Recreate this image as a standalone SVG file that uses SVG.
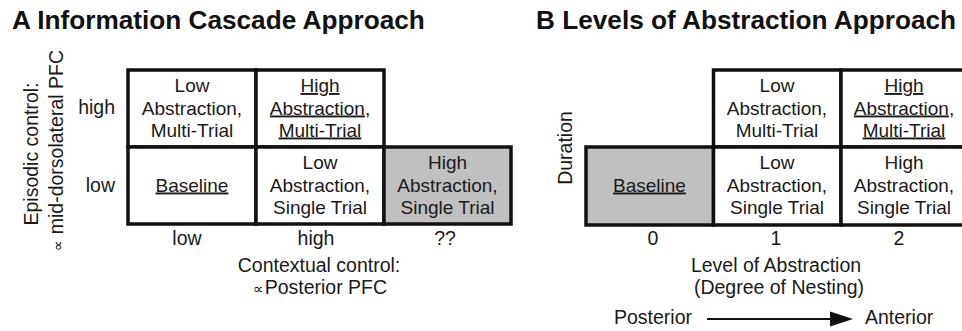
<svg xmlns="http://www.w3.org/2000/svg" width="962" height="331" viewBox="0 0 962 331">
<style>
  text { font-family: "Liberation Sans", Arial, sans-serif; fill: #1a1a1a; }
  .title { font-size: 26.2px; font-weight: bold; fill: #111; }
  .cell { fill: #ffffff; stroke: #111; stroke-width: 3.5; }
  .gray { fill: #c0c0c0; }
  .ct { font-size: 19px; text-anchor: middle; }
  .ax { font-size: 19.5px; }
  .mid { text-anchor: middle; }
  .end { text-anchor: end; }
  .u { text-decoration: underline; }
  .prop { font-family: "DejaVu Sans", sans-serif; font-size: 15px; }
</style>
<rect width="962" height="331" fill="#ffffff"/>

<text class="title" x="12" y="29">A Information Cascade Approach</text>
<text class="title" x="536" y="29">B Levels of Abstraction Approach</text>

<!-- Panel A -->
<g id="A-axis">
  <text class="ax" transform="translate(38,154) rotate(-90)" text-anchor="middle">Episodic control:</text>
  <text class="ax" transform="translate(63,150.5) rotate(-90)" text-anchor="middle"><tspan class="prop">∝</tspan><tspan dx="6">mid-dorsolateral PFC</tspan></text>
  <text class="ax end" x="115" y="114">high</text>
  <text class="ax end" x="115" y="191.5">low</text>
  <text class="ax mid" x="187" y="245">low</text>
  <text class="ax mid" x="316" y="245">high</text>
  <text class="ax mid" x="445" y="245">??</text>
  <text class="ax mid" x="319" y="272">Contextual control:</text>
  <text class="ax mid" x="320" y="294"><tspan class="prop">∝</tspan><tspan dx="1">Posterior PFC</tspan></text>
</g>

<g id="A-low-multi">
  <rect class="cell" x="128" y="70" width="128" height="77"/>
  <text class="ct" x="192" y="92">Low</text>
  <text class="ct" x="192" y="114.5">Abstraction,</text>
  <text class="ct" x="192" y="136.5">Multi-Trial</text>
</g>
<g id="A-high-multi">
  <rect class="cell" x="256" y="70" width="128" height="77"/>
  <text class="ct" x="320" y="92"><tspan class="u">High</tspan></text>
  <text class="ct" x="320" y="114.5"><tspan class="u">Abstraction</tspan>,</text>
  <text class="ct" x="320" y="136.5"><tspan class="u">Multi-Trial</tspan></text>
</g>
<g id="A-baseline">
  <rect class="cell" x="128" y="147" width="128" height="77"/>
  <text class="ct" x="192" y="191.5"><tspan class="u">Baseline</tspan></text>
</g>
<g id="A-low-single">
  <rect class="cell" x="256" y="147" width="128" height="77"/>
  <text class="ct" x="320" y="169">Low</text>
  <text class="ct" x="320" y="191.5">Abstraction,</text>
  <text class="ct" x="320" y="213.5">Single Trial</text>
</g>
<g id="A-high-single">
  <rect class="cell gray" x="384" y="147" width="127" height="77"/>
  <text class="ct" x="447.5" y="169">High</text>
  <text class="ct" x="447.5" y="191.5">Abstraction,</text>
  <text class="ct" x="447.5" y="213.5">Single Trial</text>
</g>

<!-- Panel B -->
<g id="B-axis">
  <text class="ax" transform="translate(572,148) rotate(-90)" text-anchor="middle">Duration</text>
  <text class="ax mid" x="653" y="245">0</text>
  <text class="ax mid" x="776" y="245">1</text>
  <text class="ax mid" x="899" y="245">2</text>
  <text class="ax mid" x="776" y="272">Level of Abstraction</text>
  <text class="ax mid" x="779" y="294">(Degree of Nesting)</text>
  <text class="ax" x="614" y="324">Posterior</text>
  <text class="ax" x="865" y="324">Anterior</text>
</g>

<g id="B-baseline">
  <rect class="cell gray" x="586" y="147" width="127.5" height="78"/>
  <text class="ct" x="649.5" y="191.5"><tspan class="u">Baseline</tspan></text>
</g>
<g id="B-low-multi">
  <rect class="cell" x="713.5" y="70" width="127.5" height="77"/>
  <text class="ct" x="777" y="92">Low</text>
  <text class="ct" x="777" y="114.5">Abstraction,</text>
  <text class="ct" x="777" y="136.5">Multi-Trial</text>
</g>
<g id="B-low-single">
  <rect class="cell" x="713.5" y="147" width="127.5" height="78"/>
  <text class="ct" x="777" y="169">Low</text>
  <text class="ct" x="777" y="191.5">Abstraction,</text>
  <text class="ct" x="777" y="213.5">Single Trial</text>
</g>
<g id="B-high-multi">
  <rect class="cell" x="841" y="70" width="128" height="77"/>
  <text class="ct" x="904" y="92"><tspan class="u">High</tspan></text>
  <text class="ct" x="904" y="114.5"><tspan class="u">Abstraction</tspan>,</text>
  <text class="ct" x="904" y="136.5"><tspan class="u">Multi-Trial</tspan></text>
</g>
<g id="B-high-single">
  <rect class="cell" x="841" y="147" width="128" height="78"/>
  <text class="ct" x="904" y="169">High</text>
  <text class="ct" x="904" y="191.5">Abstraction,</text>
  <text class="ct" x="904" y="213.5">Single Trial</text>
</g>

<g id="connectors">
  <line x1="707" y1="319" x2="832" y2="319" stroke="#111" stroke-width="2"/>
  <polygon points="830,311.5 853,319 830,326.5" fill="#111"/>
</g>
</svg>
